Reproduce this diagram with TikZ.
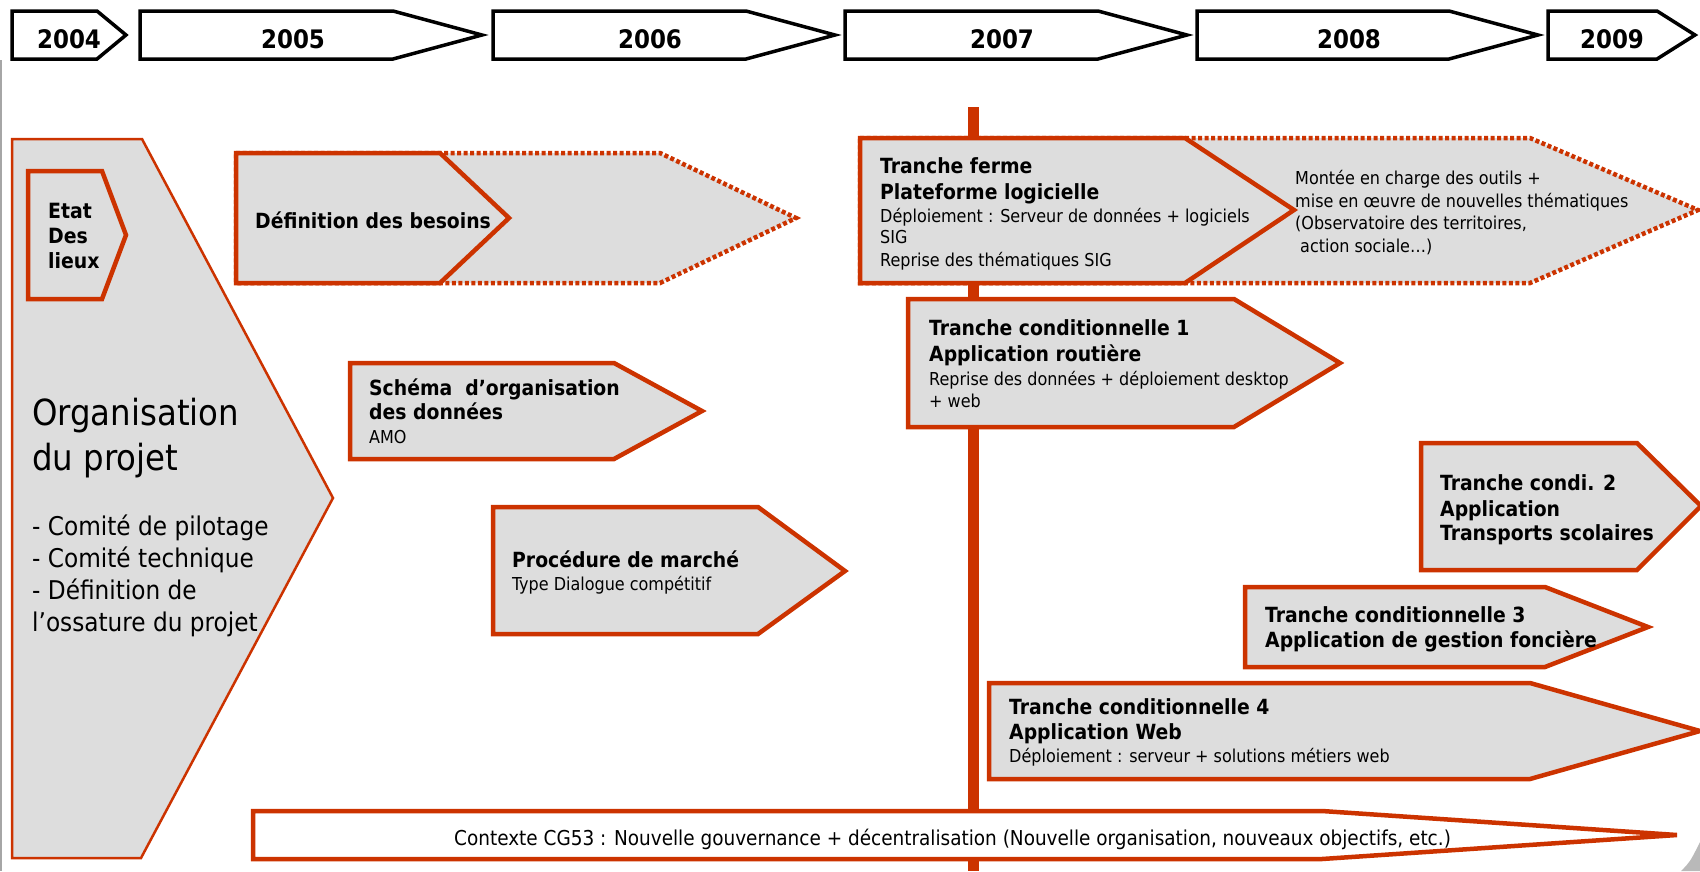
\documentclass[tikz,border=0pt]{standalone}
\usepackage{fontspec}
\setmainfont{DejaVu Sans Condensed}[BoldFont={DejaVu Sans Condensed Bold}]
\definecolor{orc}{RGB}{204,51,0}
\definecolor{boxgray}{RGB}{221,221,221}
\begin{document}
\begin{tikzpicture}[x=1pt,y=-1pt,
  yearbox/.style={draw=black, line width=3.5pt, fill=white, line join=miter},
  stage/.style={draw=orc, line width=4.5pt, fill=boxgray, line join=miter},
  dotstage/.style={draw=orc, line width=4.5pt, dash pattern=on 4pt off 2.5pt, fill=boxgray},
  yr/.style={font=\bfseries\fontsize{25.5}{30}\selectfont, anchor=base, inner sep=0},
  tb/.style={font=\bfseries\fontsize{20.9}{25}\selectfont, anchor=base west, inner sep=0},
  tr/.style={font=\fontsize{17.8}{22}\selectfont, anchor=base west, inner sep=0},
  tbig/.style={font=\fontsize{36}{42}\selectfont, anchor=base west, inner sep=0},
  tlist/.style={font=\fontsize{25.8}{30}\selectfont, anchor=base west, inner sep=0},
  tctx/.style={font=\fontsize{20.5}{24}\selectfont, anchor=base west, inner sep=0},
]
\useasboundingbox (0,0) rectangle (1700,871);
% page edge details
\draw[gray!70, line width=1.5pt] (1,60) -- (1,871);
\fill[gray!55] (1681,871) .. controls (1690,862) .. (1700,842) -- (1700,871) -- cycle;

% year header
\draw[yearbox] (12,11) -- (97,11) -- (126,35) -- (97,59) -- (12,59) -- cycle;
\draw[yearbox] (140,11) -- (393,11) -- (482,35) -- (393,59) -- (140,59) -- cycle;
\draw[yearbox] (493,11) -- (746,11) -- (835,35) -- (746,59) -- (493,59) -- cycle;
\draw[yearbox] (845,11) -- (1098,11) -- (1187,35) -- (1098,59) -- (845,59) -- cycle;
\draw[yearbox] (1197,11) -- (1449,11) -- (1538,35) -- (1449,59) -- (1197,59) -- cycle;
\draw[yearbox] (1548,11) -- (1657,11) -- (1695,35) -- (1657,59) -- (1548,59) -- cycle;
\node[yr] (y2004) at (69,48) {2004};
\node[yr] (y2005) at (293,48) {2005};
\node[yr] (y2006) at (650,48) {2006};
\node[yr] (y2007) at (1002,48) {2007};
\node[yr] (y2008) at (1349,48) {2008};
\node[yr] (y2009) at (1612,48) {2009};

% organisation du projet
\draw[draw=orc, line width=2.5pt, fill=boxgray, line join=miter]
  (12,139) -- (142,139) -- (333,498) -- (141,858) -- (12,858) -- cycle;
\draw[stage] (28,171) -- (102,171) -- (126,235) -- (102,299) -- (28,299) -- cycle;
\node[tb, font=\bfseries\fontsize{21}{25}\selectfont] (etat1) at (48,218) {Etat};
\node[tb, font=\bfseries\fontsize{21}{25}\selectfont] (etat2) at (48,243) {Des};
\node[tb, font=\bfseries\fontsize{21}{25}\selectfont] (etat3) at (48,268) {lieux};
\node[tbig] (org1) at (32,425) {Organisation};
\node[tbig] (org2) at (32,470) {du projet};
\node[tlist] (org3) at (32,535) {- Comité de pilotage};
\node[tlist] (org4) at (32,567) {- Comité technique};
\node[tlist] (org5) at (32,599) {- Définition de};
\node[tlist] (org6) at (32,631) {l’ossature du projet};

% definition des besoins
\draw[dotstage] (236,153) -- (660,153) -- (796,218) -- (660,283) -- (236,283) -- cycle;
\draw[stage] (236,153) -- (440,153) -- (509,218) -- (440,283) -- (236,283) -- cycle;
\node[tb] (def) at (255,228) {Définition des besoins};

% schema
\draw[stage] (350,363) -- (614,363) -- (702,411) -- (614,459) -- (350,459) -- cycle;
\node[tb] (sch1) at (369,395) {Schéma\ \ d’organisation};
\node[tb] (sch2) at (369,419) {des données};
\node[tr] (sch3) at (369,443) {AMO};

% procedure
\draw[stage] (493,507) -- (758,507) -- (845,571) -- (758,634) -- (493,634) -- cycle;
\node[tb] (proc1) at (512,567) {Procédure de marché};
\node[tr] (proc2) at (512,590) {Type Dialogue compétitif};

% vertical bar (now)
\draw[orc, line width=11pt] (973,107) -- (973,871);

% tranche ferme
\draw[dotstage] (860,138) -- (1530,138) -- (1698,210) -- (1530,283) -- (860,283) -- cycle;
\draw[stage] (860,138) -- (1185,138) -- (1294,210) -- (1185,283) -- (860,283) -- cycle;
\node[tb] (tf1) at (880,173) {Tranche ferme};
\node[tb] (tf2) at (880,199) {Plateforme logicielle};
\node[tr] (tf3) at (880,222) {Déploiement : Serveur de données + logiciels};
\node[tr] (tf4) at (880,243) {SIG};
\node[tr] (tf5) at (880,266) {Reprise des thématiques SIG};
\node[tr] (mc1) at (1295,184) {Montée en charge des outils +};
\node[tr] (mc2) at (1295,207) {mise en œuvre de nouvelles thématiques};
\node[tr] (mc3) at (1295,229) {(Observatoire des territoires,};
\node[tr] (mc4) at (1300,252) {action sociale…)};

% tranche conditionnelle 1
\draw[stage] (908,299) -- (1234,299) -- (1340,363) -- (1234,427) -- (908,427) -- cycle;
\node[tb] (tc1a) at (929,335) {Tranche conditionnelle 1};
\node[tb] (tc1b) at (929,361) {Application routière};
\node[tr] (tc1c) at (929,385) {Reprise des données + déploiement desktop};
\node[tr] (tc1d) at (929,407) {+ web};

% tranche condi 2
\draw[stage] (1421,443) -- (1637,443) -- (1701,506) -- (1637,570) -- (1421,570) -- cycle;
\node[tb] (tc2a) at (1440,490) {Tranche condi. 2};
\node[tb] (tc2b) at (1440,516) {Application};
\node[tb] (tc2c) at (1440,540) {Transports scolaires};

% tranche conditionnelle 3
\draw[stage] (1245,587) -- (1545,587) -- (1648,627) -- (1545,667) -- (1245,667) -- cycle;
\node[tb] (tc3a) at (1265,622) {Tranche conditionnelle 3};
\node[tb] (tc3b) at (1265,647) {Application de gestion foncière};

% tranche conditionnelle 4
\draw[stage] (989,683) -- (1530,683) -- (1700,731) -- (1530,779) -- (989,779) -- cycle;
\node[tb] (tc4a) at (1009,714) {Tranche conditionnelle 4};
\node[tb] (tc4b) at (1009,739) {Application Web};
\node[tr] (tc4c) at (1009,762) {Déploiement : serveur + solutions métiers web};

% contexte
\draw[draw=orc, line width=4.5pt, fill=white, line join=miter]
  (253,811) -- (1322,811) -- (1677,835) -- (1322,859) -- (253,859) -- cycle;
\node[tctx] (ctx) at (454,845) {Contexte CG53 : Nouvelle gouvernance + décentralisation (Nouvelle organisation, nouveaux objectifs, etc.)};
\end{tikzpicture}
\end{document}
